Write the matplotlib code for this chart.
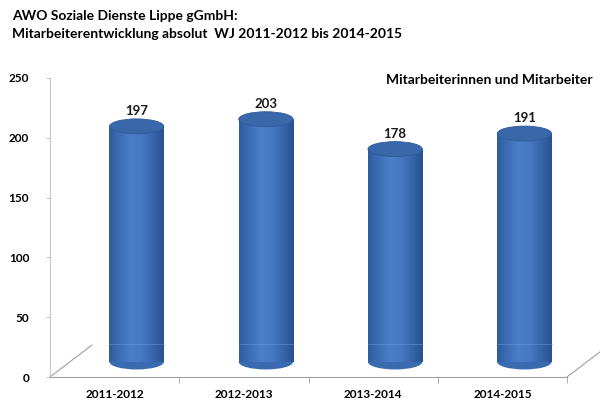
import matplotlib
matplotlib.use('Agg')
import matplotlib.pyplot as plt
import matplotlib.transforms as mtrans
from matplotlib.patches import Ellipse
from matplotlib.lines import Line2D
import numpy as np

plt.rcParams['font.family'] = ['Lato', 'DejaVu Sans']
plt.rcParams['font.weight'] = 'bold'

# Daten
jahre  = ['2011-2012', '2012-2013', '2013-2014', '2014-2015']
anzahl = [197, 203, 178, 191]
y_ticks = [0, 50, 100, 150, 200, 250]

titel = 'AWO Soziale Dienste Lippe gGmbH:\nMitarbeiterentwicklung absolut  WJ 2011-2012 bis 2014-2015'
serie = 'Mitarbeiterinnen und Mitarbeiter'

W, H = 600, 401
fig = plt.figure(figsize=(W / 100, H / 100), dpi=100)
ax = fig.add_axes([50 / W, 24 / H, 517 / W, 299 / H])
ax.set_xlim(-0.5, 3.5)
ax.set_ylim(0, 250)

# 3D-Tiefe: Säulen stehen auf halber Bodentiefe
tiefe = mtrans.ScaledTranslation(0.22, 0.15, fig.dpi_scale_trans)
tr = ax.transData + tiefe

breite = 0.42
ell_h = 12.5
cmap = matplotlib.colors.LinearSegmentedColormap.from_list(
    'zyl', ['#2F5C9E', '#3D6FB8', '#4C7FC8', '#4778C2', '#3566AD', '#2A5290'])
grad = np.linspace(0, 1, 64).reshape(1, -1)

for i, v in enumerate(anzahl):
    x0, x1 = i - breite / 2, i + breite / 2
    body = ax.bar(i, v, width=breite, bottom=0, color='#3F74BE', transform=tr, zorder=2)[0]
    im = ax.imshow(grad, extent=[x0, x1, 0, v], aspect='auto', cmap=cmap,
                   transform=tr, zorder=2.1)
    im.set_clip_path(body)
    # Boden-Ellipse
    ax.add_patch(Ellipse((i, 0), breite, ell_h, transform=tr, facecolor='#3A6AB0',
                         edgecolor='none', zorder=1.9))
    ax.plot([x0, x1], [15, 15], color='#6A98D8', lw=0.7, alpha=0.5, transform=tr, zorder=2.2)
    # Deckel
    ax.add_patch(Ellipse((i, v), breite, ell_h, transform=tr, facecolor='#3867AA',
                         edgecolor='#2E5A98', lw=0.6, zorder=2.3))
    ax.text(i, v + 8, str(v), ha='center', va='bottom', fontsize=9.5, fontweight='bold',
            color='#1a1a1a', transform=tr)

# Achsen
for s in ['top', 'right']:
    ax.spines[s].set_visible(False)
ax.spines['left'].set_color('#C8C8C8')
ax.spines['bottom'].set_color('#A0A0A0')
ax.set_yticks(y_ticks)
ax.tick_params(axis='y', length=3, color='#C8C8C8', pad=12, labelsize=8.5)
ax.set_xticks(range(len(jahre)))
ax.set_xticklabels(jahre)
ax.set_xticks([0.5, 1.5, 2.5, 3.5], minor=True)
ax.tick_params(axis='x', which='major', length=0, pad=9, labelsize=8.5)
ax.tick_params(axis='x', which='minor', length=4, color='#A0A0A0')
for lab in ax.get_xticklabels() + ax.get_yticklabels():
    lab.set_fontweight('bold')

# Bodenkanten (Perspektive)
for xa in [0, 1]:
    ax.add_line(Line2D([50 + xa * 517, 50 + xa * 517 + 42], [H - 377, H - 377 + 32],
                       transform=None, color='#A0A0A0', lw=0.8, clip_on=False))

fig.text(12 / W, 1 - 10 / H, titel, ha='left', va='top', fontsize=10,
         fontweight='bold', linespacing=1.55)
fig.text(386 / W, 1 - 80 / H, serie, ha='left', va='center', fontsize=10, fontweight='bold')

fig.savefig('out.png', dpi=100)
